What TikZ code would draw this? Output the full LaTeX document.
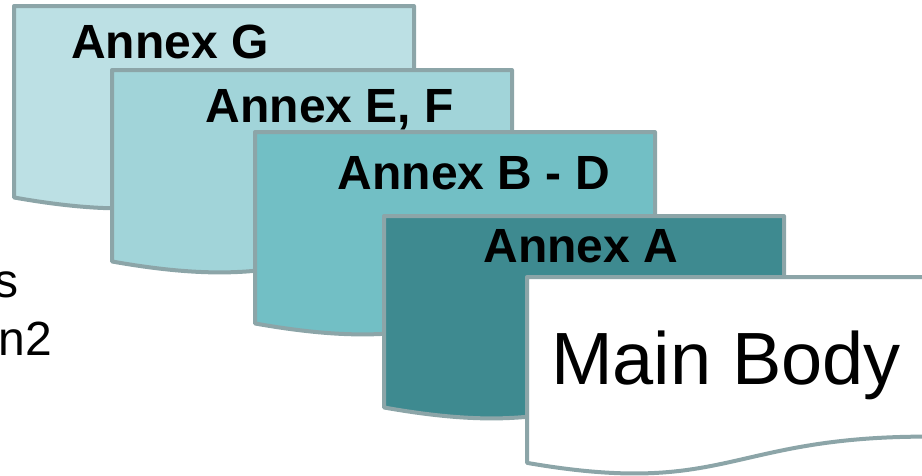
\documentclass[tikz,border=0pt]{standalone}
\usepackage{fontspec}
\setmainfont{Liberation Sans}

\definecolor{pageline}{HTML}{8CA5A8}
\definecolor{annexG}{HTML}{BCE0E4}
\definecolor{annexEF}{HTML}{A1D4D9}
\definecolor{annexBD}{HTML}{72BFC5}
\definecolor{annexA}{HTML}{3E8A90}

\tikzset{
	page/.style={draw=pageline, line width=4pt, line join=round},
	annexlabel/.style={font=\fontsize{48}{52}\selectfont\bfseries, anchor=base, inner sep=0pt},
	sidetext/.style={font=\fontsize{48}{52}\selectfont, anchor=base east, inner sep=0pt}
}

% page with a wavy bottom: left, top, height, fill
\newcommand{\docpage}[4]{%
	\filldraw[page, fill=#4] (#1,#2) -- ({#1+400},#2) -- ({#1+400},{#2+0.802*#3})
		.. controls ({#1+200},{#2+0.802*#3}) and ({#1+200},{#2+1.1075*#3}) .. (#1,{#2+0.934*#3}) -- cycle;}

\begin{document}
\begin{tikzpicture}[x=1pt, y=-1pt]
		\useasboundingbox (0,0) rectangle (922,475);
		\clip (0,0) rectangle (922,475);

		\node[sidetext] (s) at (19, 297) {s};
		\node[sidetext] (n2) at (52, 355) {n2};

		\docpage{14}{6}{205}{annexG}
		\docpage{112}{70}{205}{annexEF}
		\docpage{255}{132}{205}{annexBD}
		\docpage{384}{216}{205}{annexA}
		\docpage{527}{277}{199}{white}

		\node[annexlabel] (g) at (170, 58) {Annex G};
		\node[annexlabel] (ef) at (330, 122) {Annex E, F};
		\node[annexlabel] (bd) at (474, 189) {Annex B - D};
		\node[annexlabel] (a) at (581, 262) {Annex A};
		\node[font=\fontsize{74}{80}\selectfont, anchor=base, inner sep=0pt] (main) at (726, 384) {Main Body};
	\end{tikzpicture}
\end{document}
